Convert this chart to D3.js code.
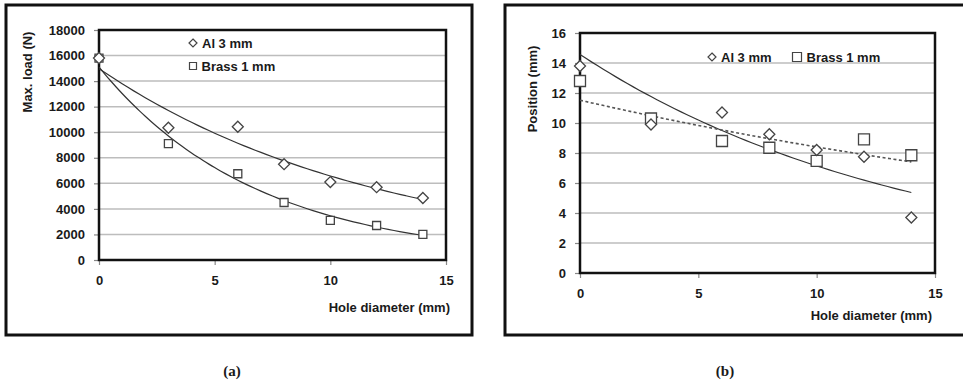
<!DOCTYPE html>
<html>
<head>
<meta charset="utf-8">
<script src="https://cdn.jsdelivr.net/npm/d3@7"></script>
<style>
  body { margin: 0; background: #fff; }
  svg text { font-family: "Liberation Sans", Arial, sans-serif; font-weight: bold; fill: #1a1a1a; }
</style>
</head>
<body>
<div id="chart"></div>
<script>
// hole diameters (mm)
var holeDiam = [0, 3, 6, 8, 10, 12, 14];

// (a) max load (N)
var loadAl = [15800, 10350, 10430, 7500, 6100, 5700, 4850];
var loadBrass = [15800, 9100, 6750, 4500, 3100, 2700, 2000];

// (b) position (mm)
var posAl = [13.8, 9.9, 10.7, 9.25, 8.2, 7.75, 3.7];
var posBrass = [12.8, 10.3, 8.8, 8.35, 7.47, 8.91, 7.85];

var xTicks = [0, 5, 10, 15];
var loadTicks = [0, 2000, 4000, 6000, 8000, 10000, 12000, 14000, 16000, 18000];
var posTicks = [0, 2, 4, 6, 8, 10, 12, 14, 16];

var seriesNames = ['Al 3 mm', 'Brass 1 mm'];

var svg = d3.select('#chart')
  .append('svg')
  .attr('width', 963)
  .attr('height', 380)

// exponential trendline, least squares on ln(y) like excel
function expFit(xs, ys) {
  var ly = ys.map(Math.log)
  var mx = d3.mean(xs), my = d3.mean(ly)
  var sxy = d3.sum(xs, (x, i) => (x - mx) * (ly[i] - my))
  var sxx = d3.sum(xs, x => (x - mx) * (x - mx))
  var b = sxy / sxx
  var a = Math.exp(my - b * mx)
  return x => a * Math.exp(b * x)
}

function diamond(s) {
  return 'M0,' + (-s) + 'L' + s + ',0L0,' + s + 'L' + (-s) + ',0Z'
}
function square(s) {
  return 'M' + (-s) + ',' + (-s) + 'h' + (2 * s) + 'v' + (2 * s) + 'h' + (-2 * s) + 'Z'
}

function drawPanel(p) {
  var g = svg.append('g')

  // outer frame
  g.append('rect')
    .attr('x', p.frame[0]).attr('y', p.frame[1])
    .attr('width', p.frame[2]).attr('height', p.frame[3])
    .attr('fill', 'none').attr('stroke', '#111').attr('stroke-width', 3)

  var x = d3.scaleLinear().domain([0, 15]).range([p.left, p.right])
  var y = d3.scaleLinear().domain(p.yDomain).range([p.bottom, p.top])

  // grid
  g.selectAll('.grid')
    .data(p.yTicks.slice(1, -1))
    .enter().append('line')
    .attr('x1', p.left).attr('x2', p.right)
    .attr('y1', d => y(d)).attr('y2', d => y(d))
    .attr('stroke', '#bdbdbd').attr('stroke-width', 1.5)

  // axes
  var yAxis = g.append('g')
    .attr('transform', 'translate(' + p.left + ',0)')
    .call(d3.axisLeft(y).tickValues(p.yTicks).tickFormat(d3.format('d')).tickSize(5).tickPadding(9))
  var xAxis = g.append('g')
    .attr('transform', 'translate(0,' + p.bottom + ')')
    .call(d3.axisBottom(x).tickValues(xTicks).tickFormat(d3.format('d')).tickSize(5).tickPadding(11))
  ;[yAxis, xAxis].forEach(ax => {
    ax.select('.domain').remove()
    ax.selectAll('.tick line').attr('stroke', '#888').attr('stroke-width', 1.2)
    ax.selectAll('text').style('font-size', '13px').attr('fill', '#1a1a1a')
  })

  // plot border
  g.append('rect')
    .attr('x', p.left).attr('y', p.top)
    .attr('width', p.right - p.left).attr('height', p.bottom - p.top)
    .attr('fill', 'none').attr('stroke', '#111').attr('stroke-width', 2.5)

  // trendlines
  var xs = d3.range(0, 14.001, 0.25)
  var line = d3.line().x(d => x(d[0])).y(d => y(d[1])).curve(d3.curveMonotoneX)
  p.series.forEach(s => {
    var f = expFit(holeDiam, s.values)
    g.append('path')
      .attr('d', line(xs.map(v => [v, f(v)])))
      .attr('fill', 'none')
      .attr('stroke', s.dash ? '#555' : '#333')
      .attr('stroke-width', s.dash ? 1.6 : 1.2)
      .attr('stroke-dasharray', s.dash || null)
  })

  // markers, squares first
  p.series.slice().reverse().forEach(s => {
    g.selectAll(null)
      .data(s.values)
      .enter().append('path')
      .attr('transform', (d, i) => 'translate(' + x(holeDiam[i]) + ',' + y(d) + ')')
      .attr('d', s.shape === 'diamond' ? diamond(s.size) : square(s.size))
      .attr('fill', '#fff').attr('stroke', '#444').attr('stroke-width', 1.3)
  })

  // legend
  p.legend.forEach((l, i) => {
    var s = p.series[i]
    var lg = g.append('g').attr('transform', 'translate(' + l[0] + ',' + l[1] + ')')
    lg.append('path')
      .attr('d', s.shape === 'diamond' ? diamond(l[2]) : square(l[2]))
      .attr('fill', '#fff').attr('stroke', '#444').attr('stroke-width', 1.2)
    lg.append('text')
      .attr('x', l[2] + 5).attr('dy', '0.35em')
      .style('font-size', '13px')
      .text(seriesNames[i])
  })

  // axis titles
  g.append('text')
    .attr('x', p.right + p.xTitle[0]).attr('y', p.xTitle[1])
    .attr('text-anchor', 'end')
    .style('font-size', '13px')
    .text('Hole diameter (mm)')
  g.append('text')
    .attr('transform', 'translate(' + p.yTitle[0] + ',' + p.yTitle[1] + ') rotate(-90)')
    .attr('text-anchor', 'middle').attr('dy', '0.35em')
    .style('font-size', '13px')
    .text(p.yLabel)

  // caption
  svg.append('text')
    .attr('x', p.caption[0]).attr('y', p.caption[1])
    .attr('text-anchor', 'middle')
    .style('font-family', '"Liberation Serif", "DejaVu Serif", serif')
    .style('font-size', '15px')
    .text(p.captionText)
}

drawPanel({
  frame: [6, 5, 466, 330],
  left: 99, right: 446, top: 30, bottom: 260,
  yDomain: [0, 18000], yTicks: loadTicks,
  yLabel: 'Max. load (N)',
  yTitle: [27, 72],
  xTitle: [4, 312],
  series: [
    { values: loadAl, shape: 'diamond', size: 5.5 },
    { values: loadBrass, shape: 'square', size: 4 }
  ],
  legend: [[193, 43, 4], [193, 66, 3.5]],
  caption: [232, 376], captionText: '(a)'
})

drawPanel({
  frame: [505, 5, 470, 330],
  left: 580, right: 935, top: 33, bottom: 273,
  yDomain: [0, 16], yTicks: posTicks,
  yLabel: 'Position (mm)',
  yTitle: [532, 89],
  xTitle: [-3, 320],
  series: [
    { values: posAl, shape: 'diamond', size: 5.5 },
    { values: posBrass, shape: 'square', size: 5.5, dash: '3,2.5' }
  ],
  legend: [[712, 57, 4], [797, 57, 4.5]],
  caption: [725, 376], captionText: '(b)'
})
</script>
</body>
</html>
